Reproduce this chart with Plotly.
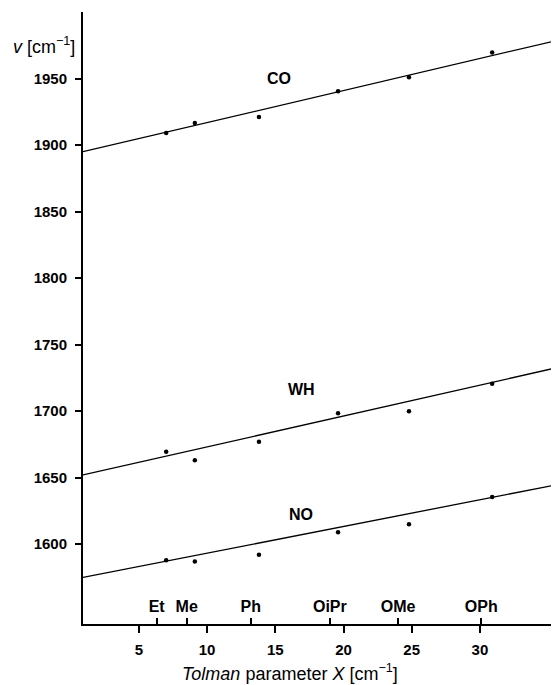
import plotly.graph_objects as go

# ligand positions (Tolman parameter) and names
ligand_x = [6.3, 8.5, 13.2, 19.0, 24.0, 30.1]
ligand_names = ["Et", "Me", "Ph", "OiPr", "OMe", "OPh"]

# measured points (x as drawn)
point_x = [7.0, 9.1, 13.8, 19.6, 24.8, 30.9]
co_vals = [1909, 1916.5, 1921, 1940.5, 1951, 1969.5]
wh_vals = [1669.5, 1663, 1677, 1698.5, 1700, 1720.5]
no_vals = [1588, 1587, 1592, 1609, 1615, 1635.5]

# regression lines (end points)
fit_x = [0.9, 35.8]
co_fit = [1895, 1979]
wh_fit = [1652, 1733]
no_fit = [1575, 1645]

series_names = ["CO", "WH", "NO"]
label_x = [15.3, 16.9, 16.9]
label_y = [1950, 1716, 1622.5]

x_ticks = [5, 10, 15, 20, 25, 30]
y_ticks = [1600, 1650, 1700, 1750, 1800, 1850, 1900, 1950]

FONT = "Liberation Sans, Arial, Helvetica, sans-serif"

fig = go.Figure()
for fit, vals in [(co_fit, co_vals), (wh_fit, wh_vals), (no_fit, no_vals)]:
    fig.add_trace(go.Scatter(x=fit_x, y=fit, mode="lines",
                             line=dict(color="black", width=1.3),
                             showlegend=False, hoverinfo="skip"))
    fig.add_trace(go.Scatter(x=point_x, y=vals, mode="markers",
                             marker=dict(color="black", size=4.5),
                             showlegend=False))

# dummy trace for secondary x axis (ligand ticks)
fig.add_trace(go.Scatter(x=ligand_x, y=[None]*len(ligand_x), xaxis="x2",
                         mode="markers", showlegend=False, hoverinfo="skip"))

for name, lx, ly in zip(series_names, label_x, label_y):
    fig.add_annotation(x=lx, y=ly, text="<b>%s</b>" % name, showarrow=False,
                       font=dict(family=FONT, size=16, color="black"))

fig.add_annotation(xref="paper", yref="paper", x=-0.012, y=0.946,
                   xanchor="right", yanchor="middle", showarrow=False,
                   text="<i>v</i> [cm<sup>−1</sup>]",
                   font=dict(family=FONT, size=18, color="black"))

fig.add_annotation(xref="paper", yref="paper", x=0.435, y=-0.08,
                   xanchor="center", yanchor="middle", showarrow=False,
                   text="<i>Tolman</i> parameter <i>X</i> [cm<sup>−1</sup>]",
                   font=dict(family=FONT, size=18, color="black"))

fig.update_layout(
    width=551, height=677,
    margin=dict(l=75, r=0, t=4, b=61),
    plot_bgcolor="white", paper_bgcolor="white",
    font=dict(family=FONT, color="black"),
    xaxis=dict(range=[0.9, 35.8], tickvals=x_ticks,
               ticktext=["<b>%d</b>" % v for v in x_ticks],
               ticks="outside", ticklen=7, tickwidth=1.5, tickcolor="black",
               ticklabelstandoff=4,
               showline=True, linecolor="black", linewidth=2,
               showgrid=False, zeroline=False,
               tickfont=dict(family=FONT, size=15, color="black")),
    xaxis2=dict(range=[0.9, 35.8], overlaying="x", anchor="y", side="bottom",
                tickvals=ligand_x,
                ticktext=["<b>%s</b>" % n for n in ligand_names],
                ticks="inside", ticklen=6, tickwidth=1.5, tickcolor="black",
                ticklabelposition="inside", ticklabelstandoff=3,
                showline=False, showgrid=False, zeroline=False,
                tickfont=dict(family=FONT, size=16, color="black")),
    yaxis=dict(range=[1540, 2000], tickvals=y_ticks,
               ticktext=["<b>%d</b>" % v for v in y_ticks],
               ticks="outside", ticklen=6, tickwidth=1.5, tickcolor="black",
               ticklabelstandoff=5,
               showline=True, linecolor="black", linewidth=2,
               showgrid=False, zeroline=False,
               tickfont=dict(family=FONT, size=15, color="black")),
)

fig.write_html("out.html")
